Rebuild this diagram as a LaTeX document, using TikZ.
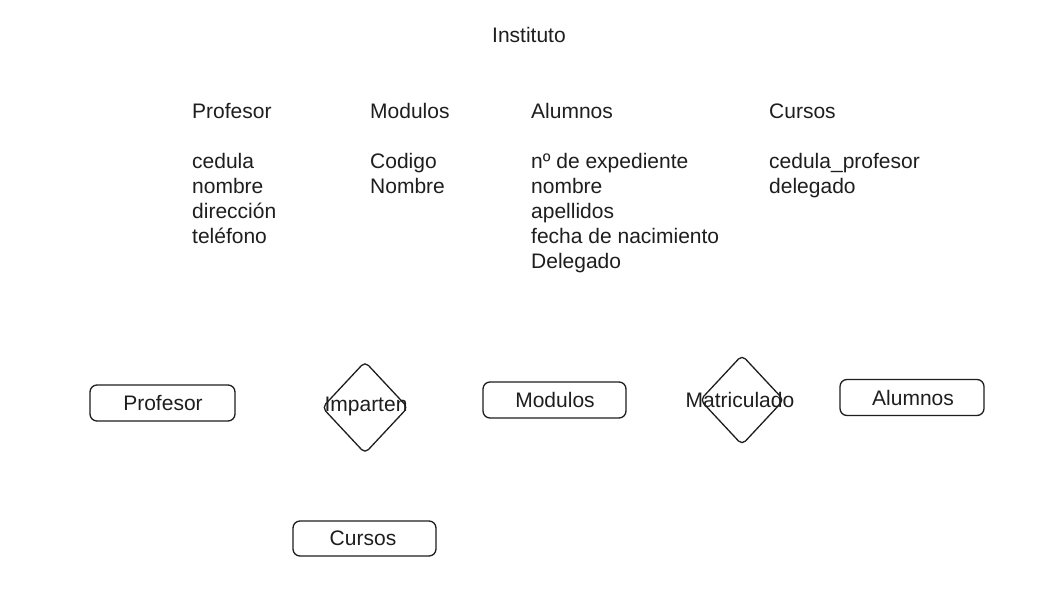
\documentclass[tikz,border=0pt]{standalone}
\usepackage{fontspec}
\setmainfont{Liberation Sans}
\usetikzlibrary{shapes.geometric}
\definecolor{ink}{HTML}{1E1E1E}
\tikzset{
  txt/.style={anchor=base west, inner sep=0pt, text=ink, font=\fontsize{21}{26}\selectfont},
  entity/.style={draw=ink, line width=1.3pt, rounded corners=7pt, inner sep=0pt},
  rel/.style={draw=ink, line width=1.3pt, diamond, rounded corners=5pt, inner sep=0pt},
  lbl/.style={anchor=base, inner sep=0pt, text=ink, font=\fontsize{21}{26}\selectfont}
}
\begin{document}
\begin{tikzpicture}[x=1pt,y=-1pt]
\useasboundingbox[fill=white] (0,0) rectangle (1048,591);
% title
\node[txt] (inst) at (492,43) {Instituto};
% column headers
\node[txt] (hprof) at (192,118) {Profesor};
\node[txt] (hmod) at (370,118) {Modulos};
\node[txt] (halu) at (531,118) {Alumnos};
\node[txt] (hcur) at (769,118) {Cursos};
% Profesor attributes
\node[txt] (p1) at (192,168) {cedula};
\node[txt] (p2) at (192,193) {nombre};
\node[txt] (p3) at (192,218) {dirección};
\node[txt] (p4) at (192,243) {teléfono};
% Modulos attributes
\node[txt] (m1) at (370,168) {Codigo};
\node[txt] (m2) at (370,193) {Nombre};
% Alumnos attributes
\node[txt] (a1) at (531,168) {nº de expediente};
\node[txt] (a2) at (531,193) {nombre};
\node[txt] (a3) at (531,218) {apellidos};
\node[txt] (a4) at (531,243) {fecha de nacimiento};
\node[txt] (a5) at (531,268) {Delegado};
% Cursos attributes
\node[txt] (c1) at (769,168) {cedula\_profesor};
\node[txt] (c2) at (769,193) {delegado};
% entities
\node[entity, minimum width=145pt, minimum height=36pt] (eprof) at (162.5,403) {};
\node[lbl] (eproft) at (163,410) {Profesor};
\node[entity, minimum width=143pt, minimum height=36pt] (emod) at (554.5,400) {};
\node[lbl] (emodt) at (555,407) {Modulos};
\node[entity, minimum width=144pt, minimum height=36pt] (ealu) at (912,397.5) {};
\node[lbl] (ealut) at (913,405) {Alumnos};
\node[entity, minimum width=143pt, minimum height=35pt] (ecur) at (364.5,538.5) {};
\node[lbl] (ecurt) at (363,545) {Cursos};
% relationships
\node[rel, minimum width=86pt, minimum height=92pt] (rimp) at (365,407.5) {};
\node[lbl] (rimpt) at (366,411) {Imparten};
\node[rel, minimum width=84pt, minimum height=90pt] (rmat) at (742,400) {};
\node[lbl] (rmatt) at (740,407) {Matriculado};
\end{tikzpicture}
\end{document}
